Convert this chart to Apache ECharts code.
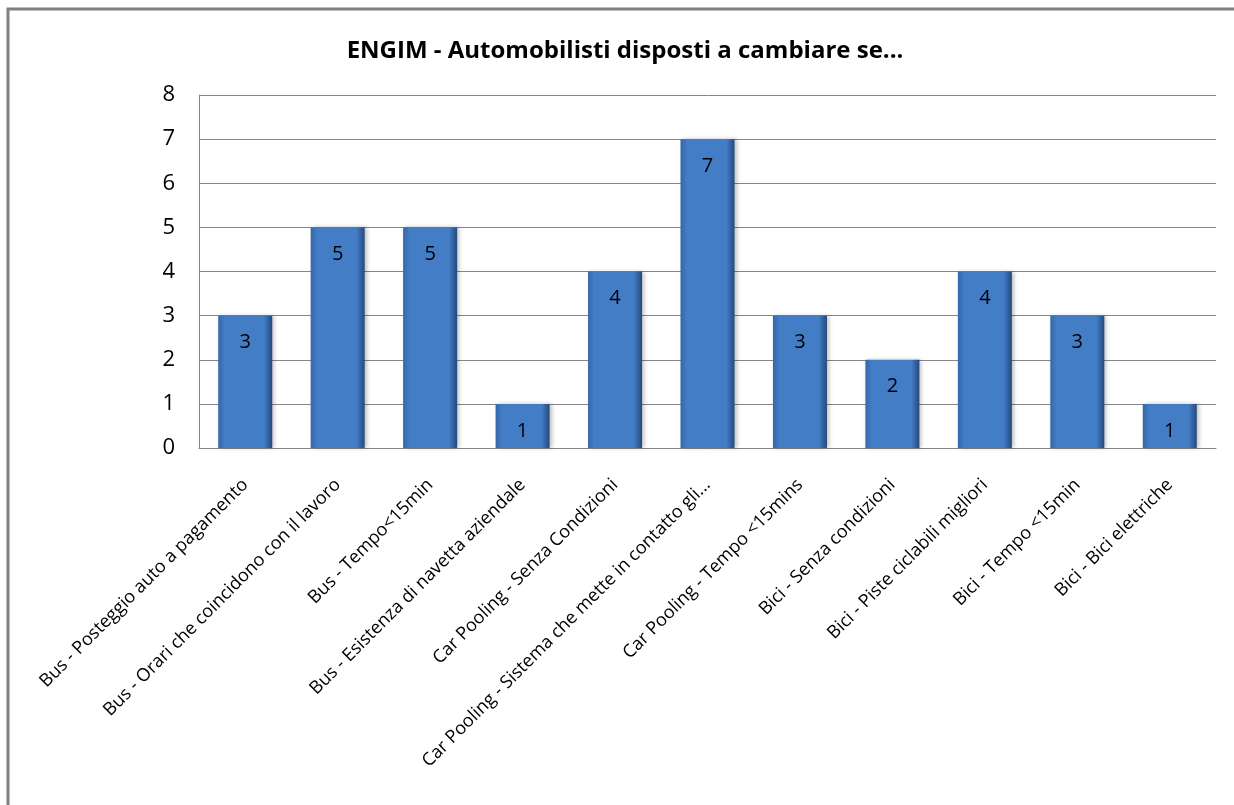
<!DOCTYPE html>
<html>
<head>
<meta charset="utf-8">
<script src="https://cdn.jsdelivr.net/npm/echarts@6/dist/echarts.min.js"></script>
<style>
html,body{margin:0;padding:0;background:#fff;}
#chart{width:1234px;height:805px;}
</style>
</head>
<body>
<div id="chart"></div>
<script>
const titleText = 'ENGIM - Automobilisti disposti a cambiare se...';
const categories = [
  'Bus - Posteggio auto a pagamento',
  'Bus - Orari che coincidono con il lavoro',
  'Bus - Tempo<15min',
  'Bus - Esistenza di navetta aziendale',
  'Car Pooling - Senza Condizioni',
  'Car Pooling - Sistema che mette in contatto gli...',
  'Car Pooling - Tempo <15mins',
  'Bici - Senza condizioni',
  'Bici - Piste ciclabili migliori',
  'Bici - Tempo <15min',
  'Bici - Bici elettriche'
];
const values = [3, 5, 5, 1, 4, 7, 3, 2, 4, 3, 1];
const yTicks = [0, 1, 2, 3, 4, 5, 6, 7, 8];

const font = '"Open Sans", Lato, sans-serif';
const chart = echarts.init(document.getElementById('chart'));
chart.setOption({
  animation: false,
  backgroundColor: '#ffffff',
  title: {
    text: titleText,
    left: 620, top: 34, textAlign: 'center',
    textStyle: {fontFamily: font, fontSize: 24, fontWeight: 'bold', color: '#000'}
  },
  graphic: [{
    type: 'rect', silent: true, z: -1,
    shape: {x: 8, y: 9, width: 1240, height: 820},
    style: {fill: 'none', stroke: '#808080', lineWidth: 3}
  }],
  grid: {left: 199, right: 18, top: 95, bottom: 357, containLabel: false},
  xAxis: {
    type: 'category',
    data: categories,
    axisLine: {lineStyle: {color: '#868686', width: 1}},
    axisTick: {show: false},
    axisLabel: {
      rotate: 45, interval: 0, margin: 34,
      fontFamily: font, fontSize: 18, color: '#000'
    }
  },
  yAxis: {
    type: 'value',
    min: yTicks[0], max: yTicks[yTicks.length - 1], interval: 1,
    axisLine: {show: true, lineStyle: {color: '#868686'}},
    axisTick: {show: false},
    splitLine: {lineStyle: {color: '#868686', width: 1}},
    axisLabel: {margin: 24, fontFamily: font, fontSize: 22, color: '#000'}
  },
  series: [{
    type: 'bar',
    data: values,
    barWidth: 54,
    itemStyle: {
      color: new echarts.graphic.LinearGradient(0, 0, 1, 0, [
        {offset: 0, color: '#3567a8'},
        {offset: 0.12, color: '#437dc6'},
        {offset: 0.85, color: '#437dc6'},
        {offset: 0.93, color: '#33609f'},
        {offset: 1, color: '#234a7e'}
      ]),
      shadowColor: 'rgba(0,0,0,0.25)', shadowBlur: 4, shadowOffsetX: 2
    },
    label: {
      show: true, position: 'insideTop', distance: 17,
      fontFamily: font, fontSize: 20, color: '#000'
    }
  }]
});
</script>
</body>
</html>
